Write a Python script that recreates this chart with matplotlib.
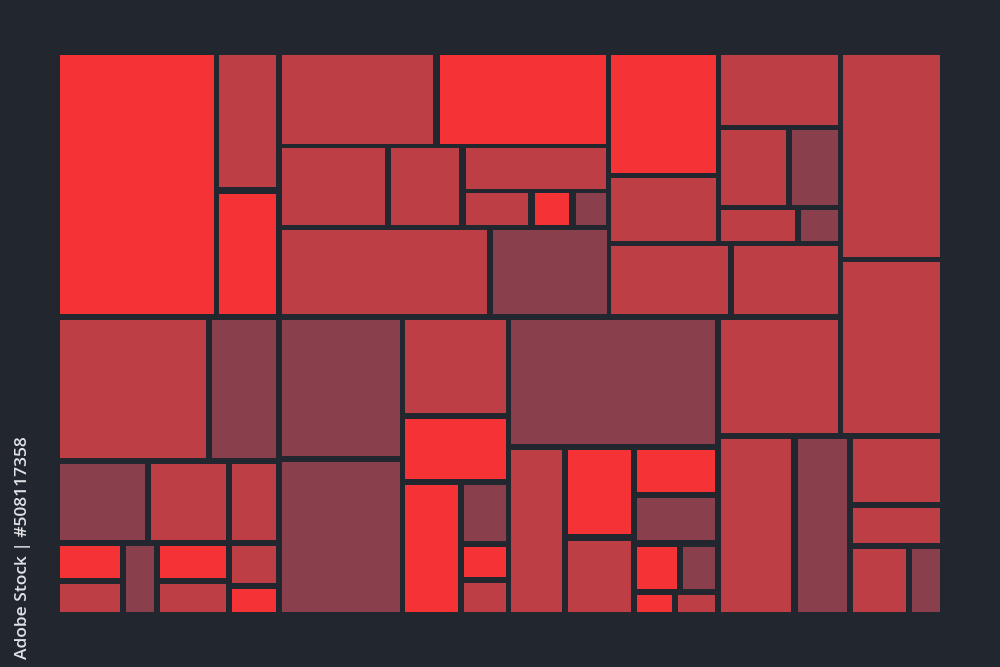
import matplotlib.pyplot as plt
from matplotlib.patches import Rectangle

# tile colours
BG = "#22262e"
SHADES = {"b": "#f53337", "m": "#bd3f45", "d": "#8a404c"}

# tiles: left, top, right, bottom (pixel units), shade
left = [60, 219, 219, 282, 440, 611,
        282, 391, 466, 466, 535, 576, 282, 493,
        611, 611, 734, 721, 721, 792, 721, 801, 843, 843,
        60, 212, 60, 151, 232,
        60, 60, 126, 160, 160, 232, 232,
        282, 282, 405, 405, 405, 464, 464, 464,
        511, 511, 568, 568, 637, 637, 637, 683, 637, 678,
        721, 721, 798, 853, 853, 853, 912]
top = [55, 55, 194, 55, 55, 55,
       148, 148, 148, 193, 193, 193, 230, 230,
       178, 246, 246, 55, 130, 130, 210, 210, 55, 262,
       320, 320, 464, 464, 464,
       546, 584, 546, 546, 584, 546, 589,
       320, 462, 320, 419, 485, 485, 547, 583,
       320, 450, 450, 541, 450, 498, 547, 547, 595, 595,
       320, 439, 439, 439, 508, 549, 549]
right = [214, 276, 276, 433, 606, 716,
         385, 459, 606, 528, 569, 606, 487, 607,
         716, 728, 838, 838, 786, 838, 795, 838, 940, 940,
         206, 276, 145, 226, 276,
         120, 120, 154, 226, 226, 276, 276,
         400, 400, 506, 506, 458, 506, 506, 506,
         715, 562, 631, 631, 715, 715, 677, 715, 672, 715,
         838, 791, 847, 940, 940, 906, 940]
bottom = [314, 187, 314, 144, 144, 173,
          225, 225, 189, 225, 225, 225, 314, 314,
          241, 314, 314, 125, 205, 205, 241, 241, 257, 433,
          458, 458, 540, 540, 540,
          578, 612, 612, 578, 612, 583, 612,
          456, 612, 413, 479, 612, 541, 577, 612,
          444, 612, 534, 612, 492, 540, 589, 589, 612, 612,
          433, 612, 612, 502, 543, 612, 612]
shade = ["b", "m", "b", "m", "b", "b",
         "m", "m", "m", "m", "b", "d", "m", "d",
         "m", "m", "m", "m", "m", "d", "m", "d", "m", "m",
         "m", "d", "d", "m", "m",
         "b", "m", "d", "b", "m", "m", "b",
         "d", "d", "m", "b", "b", "d", "b", "m",
         "d", "m", "b", "m", "b", "d", "b", "d", "b", "m",
         "m", "m", "d", "m", "m", "m", "d"]

fig = plt.figure(figsize=(10, 6.67), dpi=100, facecolor=BG)
ax = fig.add_axes([0, 0, 1, 1])
ax.set_facecolor(BG)
ax.set_xlim(0, 1000)
ax.set_ylim(667, 0)
ax.axis("off")

for x0, y0, x1, y1, s in zip(left, top, right, bottom, shade):
    ax.add_patch(Rectangle((x0, y0), x1 - x0, y1 - y0,
                           facecolor=SHADES[s], edgecolor="none"))

# stock id on the left margin
ax.text(23, 436, "Adobe Stock | #508117358", rotation=90, ha="center", va="top",
        color="#e2e3e6", fontsize=12.5, fontweight="semibold", family="Open Sans")

fig.savefig("out.png", dpi=100, facecolor=BG)
